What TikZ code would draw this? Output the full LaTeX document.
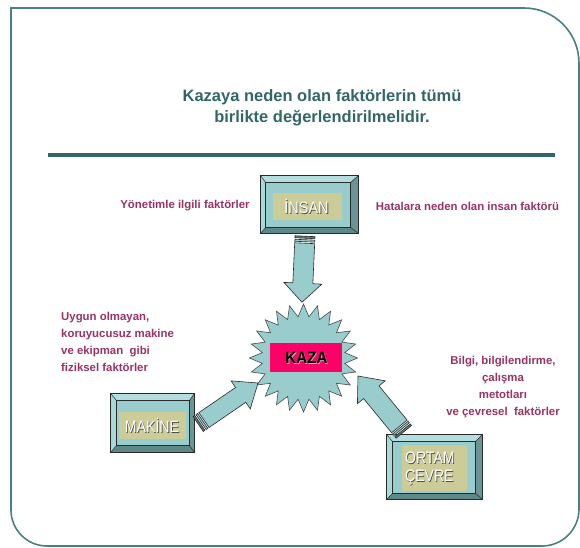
\documentclass[tikz,border=0pt]{standalone}
\usepackage{fontspec}
\setmainfont{Liberation Sans}
\usetikzlibrary{calc,shapes.geometric}
\definecolor{frameC}{HTML}{4A8080}
\definecolor{titleC}{HTML}{336666}
\definecolor{labC}{HTML}{993366}
\definecolor{faceC}{HTML}{99CCCC}
\definecolor{hiC}{HTML}{B4DEDE}
\definecolor{hiiC}{HTML}{A8D8D8}
\definecolor{shC}{HTML}{6B9494}
\definecolor{shiC}{HTML}{5E8787}
\definecolor{tanC}{HTML}{CCCC99}
\definecolor{kazaC}{HTML}{FF0066}
\definecolor{edgeC}{HTML}{2A2A2A}

\tikzset{
  outerbox/.style={rectangle, inner sep=0pt, draw=none},
  tanbox/.style={rectangle, inner sep=0pt, fill=tanC, draw=none},
  boxtxt/.style={inner sep=0pt, font=\fontsize{16.5}{18}\selectfont},
  labtxt/.style={inner sep=0pt, text=labC, font=\fontsize{11.4}{17}\selectfont\bfseries},
  arr/.style={fill=faceC, draw=edgeC, line width=0.6pt, line join=miter},
}

% shadowed text: #1 shadow colour, #2 text colour, #3 text
\newcommand\shtxt[3]{%
  \rlap{\hspace{0.9pt}\raisebox{-0.9pt}{\textcolor{#1}{#3}}}\textcolor{#2}{#3}}

% bevel: #1 node, #2 left, #3 top, #4 right, #5 bottom
\newcommand\bevel[5]{%
  \fill[hiC] (#1.north west) -- (#1.north east) -- ($(#1.north east)+(-#4,#3)$) -- ($(#1.north west)+(#2,#3)$) -- cycle;
  \fill[shC] (#1.north east) -- (#1.south east) -- ($(#1.south east)+(-#4,-#5)$) -- ($(#1.north east)+(-#4,#3)$) -- cycle;
  \fill[shiC] (#1.south east) -- (#1.south west) -- ($(#1.south west)+(#2,-#5)$) -- ($(#1.south east)+(-#4,-#5)$) -- cycle;
  \fill[hiiC] (#1.south west) -- (#1.north west) -- ($(#1.north west)+(#2,#3)$) -- ($(#1.south west)+(#2,-#5)$) -- cycle;
  \fill[faceC] ($(#1.north west)+(#2,#3)$) rectangle ($(#1.south east)+(-#4,-#5)$);
  \draw[edgeC, line width=0.8pt] (#1.north west) rectangle (#1.south east);
  \draw[edgeC, line width=0.7pt] ($(#1.north west)+(#2,#3)$) rectangle ($(#1.south east)+(-#4,-#5)$);
  \draw[edgeC, line width=0.5pt] (#1.north west) -- ($(#1.north west)+(#2,#3)$)
     (#1.north east) -- ($(#1.north east)+(-#4,#3)$)
     (#1.south east) -- ($(#1.south east)+(-#4,-#5)$)
     (#1.south west) -- ($(#1.south west)+(#2,-#5)$);
}

% striped block arrow: #1 tail, #2 tip, #3 shaft half width, #4 head half width, #5 head length
\newcommand\stripedarrow[5]{%
  \draw[arr, fill=faceC!60!black] ($(#1)!0pt!(#2)!#3!90:(#2)$) -- ($(#1)!2pt!(#2)!#3!90:(#2)$) -- ($(#1)!2pt!(#2)!#3!-90:(#2)$) -- ($(#1)!0pt!(#2)!#3!-90:(#2)$) -- cycle;
  \draw[arr] ($(#1)!3.5pt!(#2)!#3!90:(#2)$) -- ($(#1)!5.5pt!(#2)!#3!90:(#2)$) -- ($(#1)!5.5pt!(#2)!#3!-90:(#2)$) -- ($(#1)!3.5pt!(#2)!#3!-90:(#2)$) -- cycle;
  \draw[arr] ($(#1)!7pt!(#2)!#3!90:(#2)$) -- ($(#2)!#5!(#1)!#3!-90:(#1)$) -- ($(#2)!#5!(#1)!#4!-90:(#1)$) -- (#2)
     -- ($(#2)!#5!(#1)!#4!90:(#1)$) -- ($(#2)!#5!(#1)!#3!90:(#1)$) -- ($(#1)!7pt!(#2)!#3!-90:(#2)$) -- cycle;
}

\begin{document}
\begin{tikzpicture}[x=1pt, y=-1pt]
\useasboundingbox (0,0) rectangle (580,547);
\fill[white] (0,0) rectangle (580,547);

% frame
\draw[frameC, line width=1.6pt] (11,300) -- (11,8) [rounded corners=55pt] -- (579,8)
   [rounded corners=37pt] -- (579,546) [rounded corners=36pt] -- (11,546) [rounded corners=42pt] -- cycle;

% title
\node[inner sep=0pt, text=titleC, align=center, font=\fontsize{16.5}{21}\selectfont\bfseries] (title) at (322,107.5)
  {Kazaya neden olan faktörlerin tümü\\birlikte değerlendirilmelidir.};
\coordinate (r1) at (48,155);
\coordinate (r2) at (555,155);
\draw[titleC, line width=4pt] (r1) -- (r2);

% side texts
\node[labtxt] (lyon) at (185,206) {Yönetimle ilgili faktörler};
\node[labtxt] (lhat) at (467.5,206) {Hatalara neden olan insan faktörü};
\node[labtxt, align=left, anchor=west] (luyg) at (61,341.5)
  {Uygun olmayan,\\koruyucusuz makine\\ve ekipman~ gibi\\fiziksel faktörler};
\node[labtxt, align=center] (lbil) at (503,387.5)
  {Bilgi, bilgilendirme,\\çalışma\\metotları\\ve çevresel~ faktörler};

% boxes
\node[outerbox, minimum width=97pt, minimum height=57pt] (insan) at (309.5,204.5) {};
\bevel{insan}{5}{7}{8}{6}
\node[tanbox, minimum width=69pt, minimum height=27pt] (insanl) at (307.5,206.5) {};
\node[boxtxt] (insant) at (306.5,207.2) {\scalebox{0.88}[1]{\shtxt{black!70}{white}{İNSAN}}};

\node[outerbox, minimum width=83pt, minimum height=58pt] (makine) at (152.5,423) {};
\bevel{makine}{6}{7}{5}{7}
\node[tanbox, minimum width=67pt, minimum height=27pt] (makinel) at (152.5,425.5) {};
\node[boxtxt] (makinet) at (152,426) {\scalebox{0.86}[1]{\shtxt{black!70}{white}{MAKİNE}}};

\node[outerbox, minimum width=95pt, minimum height=64pt] (ortam) at (434.5,467) {};
\bevel{ortam}{6}{7}{7}{6}
\node[tanbox, minimum width=65pt, minimum height=46pt] (ortaml) at (434.5,468) {};
\node[boxtxt, anchor=west] (ortamt) at (405,468.5)
  {\scalebox{0.85}[1]{\begin{tabular}{@{}l@{}}\shtxt{black!70}{white}{ORTAM}\\\shtxt{black!70}{white}{ÇEVRE}\end{tabular}}};

% star and KAZA
\node[star, star points=24, star point ratio=1.3, minimum size=108pt, inner sep=0pt,
      fill=faceC, draw=edgeC!85, line width=0.6pt] (star) at (303.5,358) {};
\node[rectangle, inner sep=0pt, fill=kazaC, minimum width=72pt, minimum height=29pt] (kaza) at (306,357.5) {};
\node[inner sep=0pt, font=\fontsize{16.5}{18}\selectfont\bfseries] (kazat) at (306.5,358.3)
  {\scalebox{0.92}[1]{\shtxt{white!70!black}{black}{KAZA}}};

% arrows
\coordinate (a1s) at ($(insan.south)+(-4.5,3)$);
\coordinate (a1e) at ($(star.north)+(-1.5,-1)$);
\stripedarrow{a1s}{a1e}{10pt}{19pt}{19pt}
\coordinate (a2s) at ($(makine.east)+(4,1)$);
\coordinate (a2e) at (258,383);
\stripedarrow{a2s}{a2e}{9pt}{17pt}{21pt}
\coordinate (a3s) at ($(ortam.north west)+(17,-3)$);
\coordinate (a3e) at (358,376);
\stripedarrow{a3s}{a3e}{10pt}{18pt}{21pt}
\end{tikzpicture}
\end{document}
